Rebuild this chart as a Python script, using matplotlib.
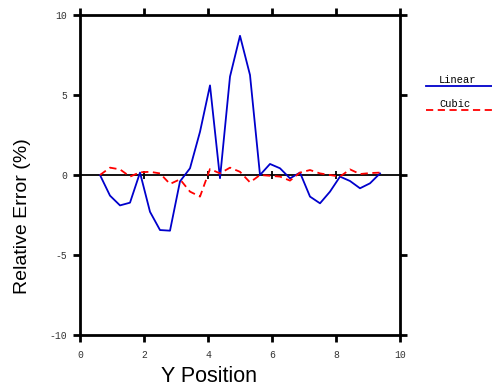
import matplotlib
matplotlib.use("Agg")
import matplotlib.pyplot as plt
from matplotlib.lines import Line2D
import numpy as np

plt.rcParams["axes.unicode_minus"] = False

# Data
y_position = [0.625, 0.9375, 1.25, 1.5625, 1.875, 2.1875, 2.5, 2.8125, 3.125, 3.4375,
              3.75, 4.0625, 4.375, 4.6875, 5.0, 5.3125, 5.625, 5.9375, 6.25, 6.5625,
              6.875, 7.1875, 7.5, 7.8125, 8.125, 8.4375, 8.75, 9.0625, 9.375]
linear_err = [0.0, -1.29, -1.9, -1.73, 0.15, -2.3, -3.44, -3.48, -0.4, 0.42,
              2.7, 5.6, -0.2, 6.15, 8.7, 6.25, 0.0, 0.69, 0.42, -0.21,
              0.15, -1.35, -1.77, -1.04, -0.1, -0.375, -0.83, -0.52, 0.1]
cubic_err = [0.0, 0.46, 0.35, -0.1, 0.17, 0.2, 0.1, -0.56, -0.27, -1.04,
             -1.35, 0.375, 0.1, 0.46, 0.2, -0.46, 0.0, -0.05, -0.1, -0.35,
             0.15, 0.31, 0.1, 0.0, -0.1, 0.35, 0.06, 0.12, 0.15]
x_ticks = [0, 2, 4, 6, 8, 10]
y_ticks = [-10, -5, 0, 5, 10]
series_names = ["Linear", "Cubic"]

W, H = 492, 386
fig = plt.figure(figsize=(W / 100, H / 100), dpi=100)
ax = fig.add_axes([80 / W, 1 - 335 / H, 320 / W, 320 / H])

blue = "#0000cc"
red = "#ff0000"
ax.plot(y_position, linear_err, color=blue, lw=1.3, zorder=3)
ax.plot(y_position, cubic_err, color=red, lw=1.3, ls=(0, (4, 2.5)), zorder=3)

ax.axhline(0, color="black", lw=1.3, zorder=2)
ax.plot(x_ticks[1:-1], [0] * 4, ls="none", marker="|", ms=6, mew=1.3, color="black", zorder=2)

ax.set_xlim(0, 10)
ax.set_ylim(-10, 10)
ax.set_xticks(x_ticks)
ax.set_yticks(y_ticks)
for s in ax.spines.values():
    s.set_linewidth(2)
ax.tick_params(direction="out", length=5, width=2, top=True, right=True,
               labeltop=False, labelright=False)
ax.tick_params(axis="x", pad=6)
ax.tick_params(axis="y", pad=4)
for lab in ax.get_xticklabels() + ax.get_yticklabels():
    lab.set_fontfamily("Liberation Mono")
    lab.set_fontsize(7)
    lab.set_color("#333333")

ax.set_xlabel("Y Position", fontfamily="Liberation Sans", fontsize=15.5)
ax.xaxis.set_label_coords((209 - 80) / 320, (335 - 366) / 320)
ax.set_ylabel("Relative Error (%)", fontfamily="Liberation Sans", fontsize=14)
ax.yaxis.set_label_coords((31 - 80) / 320, (335 - 216) / 320)

# Legend (outside, right)
def fx(px):
    return px / W

def fy(py):
    return 1 - py / H

fig.text(fx(458), fy(80), series_names[0], fontfamily="Liberation Mono", fontsize=7.5,
         ha="center", va="center")
fig.add_artist(Line2D([fx(426), fx(492)], [fy(86), fy(86)], color=blue, lw=1.3,
                      transform=fig.transFigure))
fig.text(fx(455), fy(104), series_names[1], fontfamily="Liberation Mono", fontsize=7.5,
         ha="center", va="center")
fig.add_artist(Line2D([fx(426), fx(492)], [fy(110), fy(110)], color=red, lw=1.3,
                      ls=(0, (4, 2.5)), transform=fig.transFigure))

fig.savefig("out.png", dpi=100)
